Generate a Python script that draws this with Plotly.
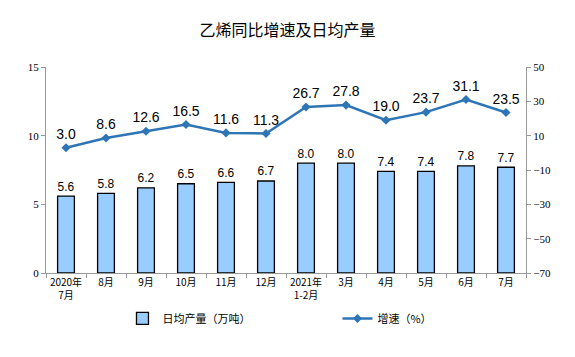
import plotly.graph_objects as go

categories = ["2020年<br>7月", "8月", "9月", "10月", "11月", "12月", "2021年<br>1-2月",
              "3月", "4月", "5月", "6月", "7月"]
daily_output = [5.6, 5.8, 6.2, 6.5, 6.6, 6.7, 8.0, 8.0, 7.4, 7.4, 7.8, 7.7]
growth = [3.0, 8.6, 12.6, 16.5, 11.6, 11.3, 26.7, 27.8, 19.0, 23.7, 31.1, 23.5]
left_ticks = [0, 5, 10, 15]
right_ticks = [-70, -50, -30, -10, 10, 30, 50]

fig = go.Figure()
fig.add_trace(go.Bar(
    x=categories, y=daily_output, name="日均产量（万吨）",
    marker=dict(color="#99CCFF", line=dict(color="#000000", width=1.3)),
    width=0.42,
    text=[f"{v:.1f}" for v in daily_output], textposition="outside",
    textfont=dict(family="Arial, Liberation Sans", size=14, color="#000"),
    cliponaxis=False,
))
fig.add_trace(go.Scatter(
    x=categories, y=growth, name="增速（%）", yaxis="y2",
    mode="lines+markers+text",
    line=dict(color="#2E75B6", width=2.5),
    marker=dict(symbol="diamond", size=7, color="#2E75B6"),
    text=[f"{v:.1f}" for v in growth], textposition="top center",
    textfont=dict(family="Arial, Liberation Sans", size=14, color="#000"),
    cliponaxis=False,
))

fig.update_layout(
    width=575, height=357,
    margin=dict(l=46, r=49, t=67, b=84, autoexpand=False),
    paper_bgcolor="white", plot_bgcolor="white",
    title=dict(text="乙烯同比增速及日均产量", x=0.5, xanchor="center", y=0.916, yanchor="middle",
               font=dict(family="Noto Sans CJK SC", size=16, color="#000")),
    showlegend=True,
    legend=dict(orientation="h", xref="container", yref="container",
                x=0.213, xanchor="left", y=0.108, yanchor="middle",
                bgcolor="rgba(0,0,0,0)",
                font=dict(family="Noto Sans CJK SC", size=11, color="#000"),
                entrywidth=170, entrywidthmode="pixels", traceorder="normal"),
    xaxis=dict(range=[-0.5, len(categories) - 0.5],
               showline=True, linecolor="#999999", linewidth=1, automargin=False,
               ticks="outside", tickson="boundaries", ticklen=4, tickcolor="#999999",
               tickangle=0,
               tickfont=dict(family="Noto Sans CJK SC", size=10, color="#000"),
               showgrid=False, fixedrange=True),
    yaxis=dict(range=[0, 15], tickvals=left_ticks, showline=True, linecolor="#999999",
               automargin=False,
               ticks="outside", ticklen=4, tickcolor="#999999", showgrid=False, zeroline=False,
               tickfont=dict(family="Liberation Serif, Times New Roman", size=11, color="#000")),
    yaxis2=dict(range=[-70, 50], tickvals=right_ticks, overlaying="y", side="right",
                automargin=False,
                showline=True, linecolor="#999999", ticks="outside", ticklen=4,
                tickcolor="#999999", showgrid=False, zeroline=False,
                tickfont=dict(family="Liberation Serif, Times New Roman", size=11, color="#000")),
    bargap=0.5,
)

fig.write_html("out.html", config={"displayModeBar": False},
               post_script="document.body.style.margin='0';document.body.style.overflow='hidden';")
